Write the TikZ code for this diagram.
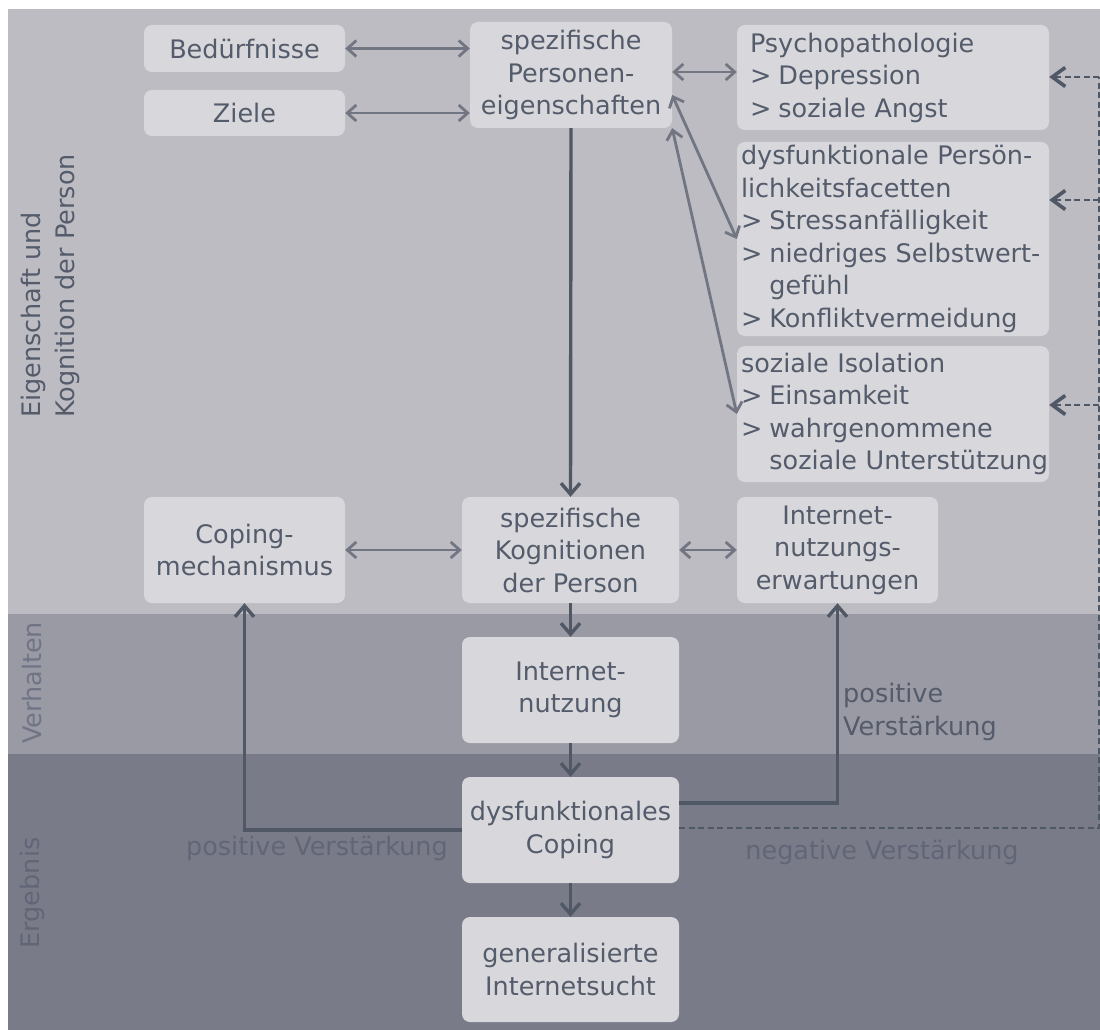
\documentclass[tikz,border=0pt]{standalone}
\usepackage{fontspec}
\setmainfont{DejaVu Sans}
\usepackage{xcolor}
\usetikzlibrary{arrows.meta}
\definecolor{bandA}{RGB}{189,188,194}
\definecolor{bandB}{RGB}{154,154,164}
\definecolor{bandC}{RGB}{122,123,137}
\definecolor{boxgr}{RGB}{216,216,220}
\definecolor{txtgr}{RGB}{84,91,107}
\definecolor{mutgr}{RGB}{97,102,119}
\definecolor{verhgr}{RGB}{112,117,133}
\definecolor{arrlt}{RGB}{114,118,131}
\definecolor{arrdk}{RGB}{80,88,102}
\newcommand{\itm}{>\hspace{7pt}}
\newcommand{\hng}{\hphantom{>}\hspace{7pt}}
\tikzset{%
	blk/.style={rectangle,rounded corners=8pt,fill=boxgr,text=txtgr,inner xsep=7pt,inner ysep=0pt,align=center},
	blkl/.style={blk,align=left,inner xsep=4pt,text width=304pt,minimum width=312pt},
	lt/.style={arrows={Straight Barb[length=9pt,width=16pt]-Straight Barb[length=9pt,width=16pt]},line width=2.8,color=arrlt},
	dk/.style={arrows={-Straight Barb[length=11pt,width=19pt]},line width=3.4,color=arrdk},
	dsh/.style={line width=2.8,color=arrdk,dash pattern=on 6pt off 3.5pt},
	dtip/.style={arrows={-Straight Barb[length=13pt,width=19pt,line width=3.6pt]}},
	lbl/.style={inner sep=0pt},
}
\begin{document}
\begin{tikzpicture}[x=1pt,y=-1pt,font=\fontsize{25.5}{32.5}\selectfont]
	\useasboundingbox (0,0) rectangle (1100,1030);
	\fill[bandA] (8,9) rectangle (1100,614);
	\fill[bandB] (8,614) rectangle (1100,754);
	\fill[bandC] (8,754) rectangle (1100,1030);

	% Ebenen
	\node (eig) at (50.5,418) [lbl,anchor=west,rotate=90,align=left,text=txtgr,font=\fontsize{25.5}{34}\selectfont] {Eigenschaft und\\Kognition der Person};
	\node (verh) at (32,683) [lbl,rotate=90,text=verhgr] {Verhalten};
	\node (erg) at (32,893) [lbl,rotate=90,text=mutgr] {Ergebnis};

	% Personeneigenschaften
	\node (bed) at (244.5,48.5) [blk,minimum width=201pt,minimum height=47pt] {Bedürfnisse};
	\node (ziele) at (244.5,113) [blk,minimum width=201pt,minimum height=46pt] {Ziele};
	\node (pers) at (571,75) [blk,minimum width=202pt,minimum height=106pt] {spezifische\\Personen-\\eigenschaften};
	\node (psy) at (893,77.5) [blkl,minimum height=105pt,inner xsep=13pt,text width=286pt] {Psychopathologie\\\itm Depression\\\itm soziale Angst};
	\node (dysf) at (893,239) [blkl,minimum height=194pt] {dysfunktionale Persön-\\lichkeitsfacetten\\\itm Stressanfälligkeit\\\itm niedriges Selbstwert-\\\hng gefühl\\\itm Konfliktvermeidung};
	\node (iso) at (893,414) [blkl,minimum height=136pt] {soziale Isolation\\\itm Einsamkeit\\\itm wahrgenommene\\\mbox{\hng soziale Unterstützung}};

	% Kognitionen
	\node (cop) at (244.5,550) [blk,minimum width=201pt,minimum height=106pt] {Coping-\\mechanismus};
	\node (kog) at (570.5,550) [blk,minimum width=217pt,minimum height=106pt] {spezifische\\Kognitionen\\der Person};
	\node (erw) at (837.5,550) [blk,minimum width=201pt,minimum height=106pt] {Internet-\\nutzungs-\\erwartungen};

	% Verhalten und Ergebnis
	\node (nutz) at (570.5,690) [blk,minimum width=217pt,minimum height=106pt] {Internet-\\nutzung};
	\node (dcop) at (570.5,830) [blk,minimum width=217pt,minimum height=106pt] {dysfunktionales\\Coping};
	\node (sucht) at (570.5,969.5) [blk,minimum width=217pt,minimum height=105pt] {generalisierte\\Internetsucht};

	\draw[lt] (bed.east) -- (bed.east -| pers.west);
	\draw[lt] (ziele.east) -- (ziele.east -| pers.west);
	\draw[lt] ([yshift=3pt]pers.east) -- ([yshift=3pt]pers.east -| psy.west);
	\draw[lt] ([yshift=-20pt]pers.east) -- (dysf.west);
	\draw[lt] (pers.south east) -- (iso.west);
	\draw[lt] (cop.east) -- (kog.west);
	\draw[lt] (kog.east) -- (erw.west);

	\draw[dk] (pers.south) -- (kog.north);
	\draw[dk] (kog.south) -- (nutz.north);
	\draw[dk] (nutz.south) -- (dcop.north);
	\draw[dk] (dcop.south) -- (sucht.north);
	\draw[dk] (dcop.west) -| (cop.south);
	\draw[dk] ([yshift=27pt]dcop.east) -| (erw.south);

	\coordinate (c1) at (1099,828);
	\coordinate (r1) at (1099,77);
	\coordinate (r2) at (1099,200);
	\coordinate (r3) at (1099,405);
	\draw[dsh] (dcop.east |- c1) -- (c1) -- (r1);
	\draw[dsh,dtip] (r1) -- (r1 -| psy.east);
	\draw[dsh,dtip] (r2) -- (r2 -| dysf.east);
	\draw[dsh,dtip] (r3) -- (r3 -| iso.east);

	\node (pv1) at (843,712) [lbl,anchor=west,align=left,text=txtgr] {positive\\Verstärkung};
	\node (pv2) at (448,848) [lbl,anchor=east,text=mutgr] {positive Verstärkung};
	\node (nv) at (882,852) [lbl,text=mutgr] {negative Verstärkung};
\end{tikzpicture}
\end{document}
